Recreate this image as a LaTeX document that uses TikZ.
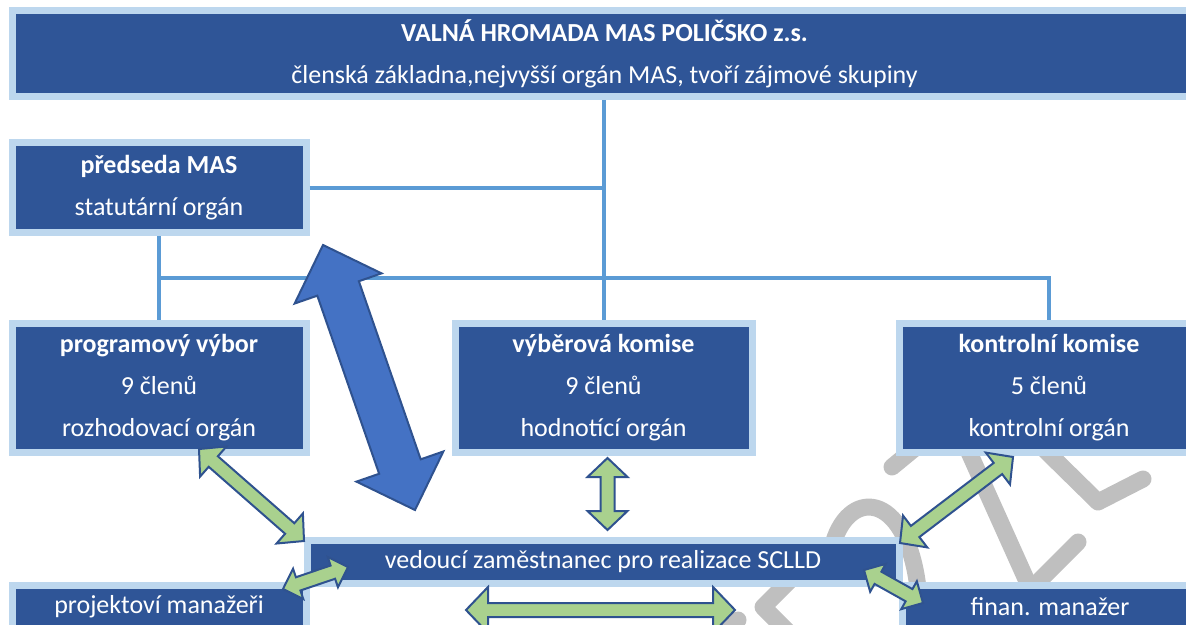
\documentclass[tikz,border=0pt]{standalone}
\usepackage{fontspec}
\setmainfont{Carlito}
\usetikzlibrary{shapes, arrows, positioning, calc}

\definecolor{boxblue}{HTML}{2F5597}
\definecolor{boxrim}{HTML}{BDD7EE}
\definecolor{linkblue}{HTML}{5B9BD5}
\definecolor{arrgreen}{HTML}{A9D18E}
\definecolor{arrblue}{HTML}{4472C4}
\definecolor{arredge}{HTML}{2F528F}
\definecolor{wmgray}{HTML}{BFBFBF}

% block arrow with a head at both ends: style, from, to, head length, half shaft, half head
\newcommand{\dblarr}[6]{%
	\draw[#1] (#2) -- ($(#2)!#4!(#3)!#6!90:(#3)$) -- ($(#2)!#4!(#3)!#5!90:(#3)$)
		-- ($(#3)!#4!(#2)!#5!-90:(#2)$) -- ($(#3)!#4!(#2)!#6!-90:(#2)$) -- (#3)
		-- ($(#3)!#4!(#2)!#6!90:(#2)$) -- ($(#3)!#4!(#2)!#5!90:(#2)$)
		-- ($(#2)!#4!(#3)!#5!-90:(#3)$) -- ($(#2)!#4!(#3)!#6!-90:(#3)$) -- cycle;}

\begin{document}
\begin{tikzpicture}[
	x=0.5pt, y=-0.5pt,
	box/.style = {shape=rectangle, draw=boxrim, fill=boxblue, line width=3.5pt, text=white, inner sep=0pt, align=center, font=\fontsize{13}{21}\selectfont},
	link/.style = {draw=linkblue, line width=2pt},
	garr/.style = {draw=arredge, fill=arrgreen, line width=1pt},
	barr/.style = {draw=arredge, fill=arrblue, line width=1pt},
	wm/.style = {draw=wmgray, line width=8.5pt, line cap=round, line join=round},
	]
\useasboundingbox (0,0) rectangle (1186,625);
% watermark pieces, behind everything
\draw[wm] (892,467) -- (920,444);
\draw[wm] (968,450) -- (1030,588);
\draw[wm] (1032,588) -- (1078,542);
\draw[wm] (1045,450) -- (1098,502) -- (1143,479);
\draw[wm] (832,548) .. controls (846,488) and (906,488) .. (918,588);
\draw[wm] (790,580) -- (763,607) -- (790,634);
\draw[wm] (722,636) -- (738,620);
% boxes
\node[box, minimum width=592.5pt, minimum height=43pt] (VH) at (604.5,54) {\textbf{VALNÁ HROMADA MAS POLIČSKO z.s.}\\členská základna,nejvyšší orgán MAS, tvoří zájmové skupiny};
\node[box, minimum width=147pt, minimum height=45pt] (PR) at (159,188) {\textbf{předseda MAS}\\statutární orgán};
\node[box, minimum width=147pt, minimum height=64.5pt] (PV) at (159,387.5) {\textbf{programový výbor}\\9 členů\\rozhodovací orgán};
\node[box, minimum width=148.5pt, minimum height=64.5pt] (VK) at (603.5,387.5) {\textbf{výběrová komise}\\9 členů\\hodnotící orgán};
\node[box, minimum width=150pt, minimum height=64.5pt] (KK) at (1049,387.5) {\textbf{kontrolní komise}\\5 členů\\kontrolní orgán};
\node[box, minimum width=296pt, minimum height=21.5pt] (VZ) at (603,561.5) {vedoucí zaměstnanec pro realizace SCLLD};
\node[box, minimum width=147pt, minimum height=21.5pt] (PM) at (159,606.5) {projektoví manažeři};
\node[box, minimum width=148pt, minimum height=21.5pt] (FM) at (1050,606.5) {finan. manažer};
% connectors
\coordinate (bus) at (603,278);
\draw[link] (VK.north |- VH.south) -- (VK.north);
\draw[link] (PR.east) -- (PR.east -| VK.north);
\draw[link] (PR.south) -- (PV.north);
\draw[link] (PV.north |- bus) -| (KK.north);
% arrow ends
\coordinate (b1) at (323,245); \coordinate (b2) at (415,510);
\coordinate (g1) at (199,449); \coordinate (g2) at (304,541);
\coordinate (g3) at (283,589); \coordinate (g4) at (348,567);
\coordinate (g5) at (607.5,458); \coordinate (g6) at (607.5,530);
\coordinate (g7) at (1013,457); \coordinate (g8) at (900,543);
\coordinate (g9) at (864,570); \coordinate (g10) at (923,603);
\coordinate (g11) at (466,610); \coordinate (g12) at (735,610);
% arrows
\dblarr{barr}{b1}{b2}{23pt}{11pt}{23pt}
\dblarr{garr}{g1}{g2}{9.5pt}{3.5pt}{10pt}
\dblarr{garr}{g3}{g4}{8pt}{3.5pt}{8pt}
\dblarr{garr}{g5}{g6}{9.5pt}{3.5pt}{10pt}
\dblarr{garr}{g7}{g8}{9.5pt}{3.5pt}{10pt}
\dblarr{garr}{g9}{g10}{8pt}{3.5pt}{8pt}
\dblarr{garr}{g11}{g12}{11pt}{3.5pt}{11.5pt}
\end{tikzpicture}
\end{document}
